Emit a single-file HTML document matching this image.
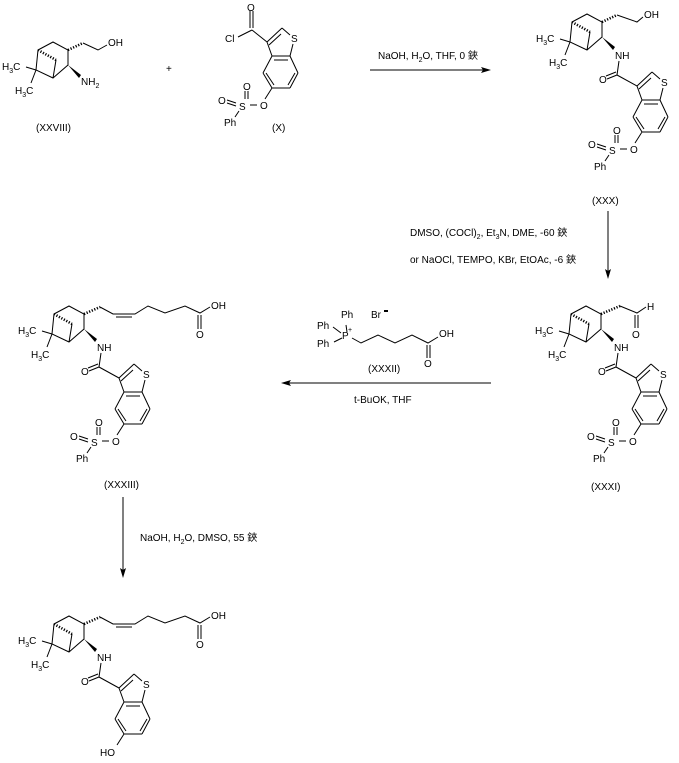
<!DOCTYPE html>
<html><head><meta charset="utf-8"><style>
html,body{margin:0;padding:0;background:#fff;}
svg{display:block;font-family:"Liberation Sans","Noto Sans CJK SC",sans-serif;}
text{font-size:10px;fill:#000;}
.s{font-size:7px;}
path,line{stroke:#000;stroke-width:1;fill:none;}
.h{stroke-dasharray:1.2 1.6;stroke-width:2.6;}
</style></head><body>
<svg width="679" height="763" viewBox="0 0 679 763" xmlns="http://www.w3.org/2000/svg">

<!-- XXVIII -->
<g transform="translate(38,50)">
<path d="M0,0L15,-8L30,0L30,15L15,28L-2,20Z M18,10L15,28 M-2,20L-12,17 M-2,20L-7,33 M45,-7L60,0L69,-5"/>
<line class="h" x1="0" y1="0" x2="18" y2="10"/>
<line class="h" x1="30" y1="0" x2="45" y2="-7"/>
<polygon points="30,15 43,25 41,28" fill="#000"/>
<text x="-36" y="20">H<tspan class="s" dy="3">3</tspan><tspan dy="-3">C</tspan></text>
<text x="-23" y="44">H<tspan class="s" dy="3">3</tspan><tspan dy="-3">C</tspan></text>
<text x="70" y="-4">OH</text>
<text x="43" y="35">NH<tspan class="s" dy="3">2</tspan></text>
</g>
<text x="36" y="131">(XXVIII)</text>
<text x="166" y="72">+</text>

<!-- X -->
<g transform="translate(202,-22)">
<path d="M50,52L65,64 M48,33L48,50 M51,33L51,50 M50,52L36,59 M65,64L80,50 M80,50L88,57 M91,66L88,78 M88,78L70,78 M70,78L65,64 M70,78L61,95 M61,95L70,110 M70,110L88,110 M88,110L96,95 M96,95L88,78 M67,67L79,56 M72,82L86,82 M64,95L72,107 M86,107L93,95
M70,110L63,121 M55,127L48,127 M43,113L43,121 M46,113L46,121 M25,122L34,125 M25,125L34,128 M37,133L33,139"/>
<text x="45" y="33">O</text>
<text x="23" y="64">Cl</text>
<text x="89" y="64">S</text>
<text x="58" y="131">O</text><text x="37" y="132">S</text><text x="41" y="112">O</text><text x="16" y="126">O</text><text x="22" y="148">Ph</text>
</g>
<text x="272" y="131">(X)</text>

<!-- arrow 1 -->
<text x="378" y="59">NaOH, H<tspan class="s" dy="3">2</tspan><tspan dy="-3">O, THF, 0 鋏</tspan></text>
<line x1="370" y1="70" x2="486" y2="70"/><polygon points="491,70 481,67 483,70 481,73" fill="#000"/>

<!-- XXX -->
<g transform="translate(572,22)">
<path d="M0,0L15,-8L30,0L30,15L15,28L-2,20Z M18,10L15,28 M-2,20L-12,17 M-2,20L-7,33 M45,-7L65,0L71,-5 M47,39L45,53 M45,53L65,64 M65,64L80,50 M80,50L88,57 M91,66L88,78 M88,78L70,78 M70,78L65,64 M70,78L61,95 M61,95L70,110 M70,110L88,110 M88,110L96,95 M96,95L88,78 M67,67L79,56 M72,82L86,82 M64,95L72,107 M86,107L93,95 M45,53L35,57 M44,50L34,54
M70,110L63,121 M55,127L48,127 M43,113L43,121 M46,113L46,121 M25,122L34,125 M25,125L34,128 M37,133L33,139"/>
<line class="h" x1="0" y1="0" x2="18" y2="10"/>
<line class="h" x1="30" y1="0" x2="45" y2="-7"/>
<polygon points="30,15 43,25 41,28" fill="#000"/>
<text x="-36" y="20">H<tspan class="s" dy="3">3</tspan><tspan dy="-3">C</tspan></text>
<text x="-23" y="44">H<tspan class="s" dy="3">3</tspan><tspan dy="-3">C</tspan></text>
<text x="72" y="-4">OH</text>
<text x="43" y="37">NH</text>
<text x="27" y="61">O</text>
<text x="89" y="64">S</text>
<text x="58" y="131">O</text><text x="37" y="132">S</text><text x="41" y="112">O</text><text x="16" y="126">O</text><text x="22" y="148">Ph</text>
</g>
<text x="592" y="204">(XXX)</text>

<!-- arrow 2 -->
<line x1="608" y1="211" x2="608" y2="274"/><polygon points="608,279 605,269 608,271 611,269" fill="#000"/>
<text x="410" y="236">DMSO, (COCl)<tspan class="s" dy="3">2</tspan><tspan dy="-3">, Et</tspan><tspan class="s" dy="3">3</tspan><tspan dy="-3">N, DME, -60 鋏</tspan></text>
<text x="410" y="263">or  NaOCl, TEMPO, KBr, EtOAc, -6 鋏</text>

<!-- XXXI -->
<g transform="translate(571,314)">
<path d="M0,0L15,-8L30,0L30,15L15,28L-2,20Z M18,10L15,28 M-2,20L-12,17 M-2,20L-7,33 M49,-8L66,-1L75,-7 M64,1L64,14 M67,1L67,14 M47,39L45,53 M45,53L65,64 M65,64L80,50 M80,50L88,57 M91,66L88,78 M88,78L70,78 M70,78L65,64 M70,78L61,95 M61,95L70,110 M70,110L88,110 M88,110L96,95 M96,95L88,78 M67,67L79,56 M72,82L86,82 M64,95L72,107 M86,107L93,95 M45,53L35,57 M44,50L34,54
M70,110L63,121 M55,127L48,127 M43,113L43,121 M46,113L46,121 M25,122L34,125 M25,125L34,128 M37,133L33,139"/>
<line class="h" x1="0" y1="0" x2="18" y2="10"/>
<line class="h" x1="30" y1="0" x2="49" y2="-8"/>
<polygon points="30,15 43,25 41,28" fill="#000"/>
<text x="-36" y="20">H<tspan class="s" dy="3">3</tspan><tspan dy="-3">C</tspan></text>
<text x="-23" y="44">H<tspan class="s" dy="3">3</tspan><tspan dy="-3">C</tspan></text>
<text x="76" y="-4">H</text>
<text x="61" y="24">O</text>
<text x="43" y="37">NH</text>
<text x="27" y="61">O</text>
<text x="89" y="64">S</text>
<text x="58" y="131">O</text><text x="37" y="132">S</text><text x="41" y="112">O</text><text x="16" y="126">O</text><text x="22" y="148">Ph</text>
</g>
<text x="591" y="490">(XXXI)</text>

<!-- XXXII + arrow 3 -->
<path d="M352,338L361,343L378,335L395,343L412,335L428,343L438,337 M427,345L427,358 M430,345L430,358 M346,325L347,332 M333,327L341,333 M334,342L342,338"/>
<text x="341" y="318">Ph</text>
<text x="317" y="329">Ph</text>
<text x="317" y="347">Ph</text>
<text x="342" y="339">P</text><text x="348" y="332" class="s">+</text>
<text x="371" y="318">Br</text><line x1="384" y1="311" x2="388" y2="311" style="stroke-width:2"/>
<text x="439" y="337">OH</text>
<text x="424" y="367">O</text>
<text x="368" y="372">(XXXII)</text>
<line x1="286" y1="383" x2="491" y2="383"/><polygon points="281,383 291,380 289,383 291,386" fill="#000"/>
<text x="354" y="403">t-BuOK, THF</text>

<!-- XXXIII -->
<g transform="translate(54,314)">
<path d="M0,0L15,-8L30,0L30,15L15,28L-2,20Z M18,10L15,28 M-2,20L-12,17 M-2,20L-7,33 M46,-7L59,0L81,0L94,-8L111,-1L131,-8L146,-1L156,-7 M62,3L78,3 M144,1L144,15 M147,1L147,15 M47,39L45,53 M45,53L65,64 M65,64L80,50 M80,50L88,57 M91,66L88,78 M88,78L70,78 M70,78L65,64 M70,78L61,95 M61,95L70,110 M70,110L88,110 M88,110L96,95 M96,95L88,78 M67,67L79,56 M72,82L86,82 M64,95L72,107 M86,107L93,95 M45,53L35,57 M44,50L34,54
M70,110L63,121 M55,127L48,127 M43,113L43,121 M46,113L46,121 M25,122L34,125 M25,125L34,128 M37,133L33,139"/>
<line class="h" x1="0" y1="0" x2="18" y2="10"/>
<line class="h" x1="30" y1="0" x2="46" y2="-7"/>
<polygon points="30,15 43,25 41,28" fill="#000"/>
<text x="-36" y="20">H<tspan class="s" dy="3">3</tspan><tspan dy="-3">C</tspan></text>
<text x="-23" y="44">H<tspan class="s" dy="3">3</tspan><tspan dy="-3">C</tspan></text>
<text x="157" y="-5">OH</text>
<text x="142" y="24">O</text>
<text x="43" y="37">NH</text>
<text x="27" y="61">O</text>
<text x="89" y="64">S</text>
<text x="58" y="131">O</text><text x="37" y="132">S</text><text x="41" y="112">O</text><text x="16" y="126">O</text><text x="22" y="148">Ph</text>
</g>
<text x="104" y="488">(XXXIII)</text>

<!-- arrow 4 -->
<line x1="123" y1="497" x2="123" y2="573"/><polygon points="123,578 120,568 123,570 126,568" fill="#000"/>
<text x="140" y="541">NaOH, H<tspan class="s" dy="3">2</tspan><tspan dy="-3">O, DMSO, 55 鋏</tspan></text>

<!-- final -->
<g transform="translate(54,624)">
<path d="M0,0L15,-8L30,0L30,15L15,28L-2,20Z M18,10L15,28 M-2,20L-12,17 M-2,20L-7,33 M46,-7L59,0L81,0L94,-8L111,-1L131,-8L146,-1L156,-7 M62,3L78,3 M144,1L144,15 M147,1L147,15 M47,39L45,53 M45,53L65,64 M65,64L80,50 M80,50L88,57 M91,66L88,78 M88,78L70,78 M70,78L65,64 M70,78L61,95 M61,95L70,110 M70,110L88,110 M88,110L96,95 M96,95L88,78 M67,67L79,56 M72,82L86,82 M64,95L72,107 M86,107L93,95 M45,53L35,57 M44,50L34,54
M70,110L63,121"/>
<line class="h" x1="0" y1="0" x2="18" y2="10"/>
<line class="h" x1="30" y1="0" x2="46" y2="-7"/>
<polygon points="30,15 43,25 41,28" fill="#000"/>
<text x="-36" y="20">H<tspan class="s" dy="3">3</tspan><tspan dy="-3">C</tspan></text>
<text x="-23" y="44">H<tspan class="s" dy="3">3</tspan><tspan dy="-3">C</tspan></text>
<text x="157" y="-5">OH</text>
<text x="142" y="24">O</text>
<text x="43" y="37">NH</text>
<text x="27" y="61">O</text>
<text x="89" y="64">S</text>
<text x="46" y="132">HO</text>
</g>
</svg>
</body></html>
